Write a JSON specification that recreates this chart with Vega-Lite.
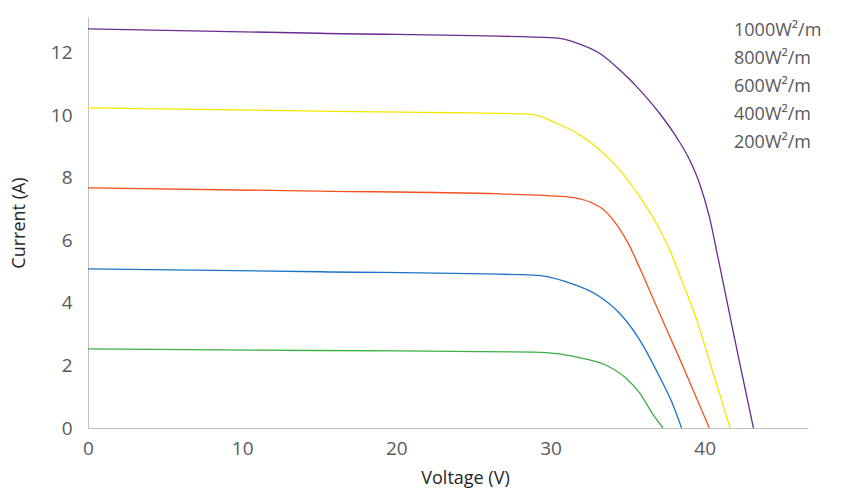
{
  "$schema": "https://vega.github.io/schema/vega-lite/v6.json",
  "autosize": {"type": "none"},
  "padding": {"left": 88, "top": 17, "right": 34, "bottom": 68},
  "width": 720,
  "height": 411,
  "background": "#ffffff",
  "config": {
    "view": {"stroke": null},
    "font": "Open Sans",
    "axis": {
      "grid": false,
      "ticks": false,
      "domainColor": "#bfbfbf",
      "domainWidth": 1,
      "labelColor": "#595959",
      "labelFont": "Open Sans",
      "labelFontSize": 19,
      "labelFontWeight": "normal",
      "labelFlush": false,
      "titleColor": "#262626",
      "titleFont": "Open Sans",
      "titleFontSize": 18,
      "titleFontWeight": "normal"
    }
  },
  "data": {
    "values": [
      {"series": "1000W²/m", "V": 0, "I": 12.77},
      {"series": "1000W²/m", "V": 15, "I": 12.63},
      {"series": "1000W²/m", "V": 30.3, "I": 12.48},
      {"series": "1000W²/m", "V": 31.8, "I": 12.3},
      {"series": "1000W²/m", "V": 33.18, "I": 11.99},
      {"series": "1000W²/m", "V": 34.48, "I": 11.46},
      {"series": "1000W²/m", "V": 35.78, "I": 10.82},
      {"series": "1000W²/m", "V": 37.07, "I": 10.07},
      {"series": "1000W²/m", "V": 38.15, "I": 9.32},
      {"series": "1000W²/m", "V": 39.02, "I": 8.58},
      {"series": "1000W²/m", "V": 39.66, "I": 7.83},
      {"series": "1000W²/m", "V": 40.3, "I": 6.76},
      {"series": "1000W²/m", "V": 40.85, "I": 5.48},
      {"series": "1000W²/m", "V": 41.4, "I": 4.16},
      {"series": "1000W²/m", "V": 42.2, "I": 2.24},
      {"series": "1000W²/m", "V": 43.16, "I": 0},

      {"series": "800W²/m", "V": 0, "I": 10.24},
      {"series": "800W²/m", "V": 15, "I": 10.14},
      {"series": "800W²/m", "V": 28.6, "I": 10.04},
      {"series": "800W²/m", "V": 30.4, "I": 9.75},
      {"series": "800W²/m", "V": 31.9, "I": 9.38},
      {"series": "800W²/m", "V": 33.18, "I": 8.9},
      {"series": "800W²/m", "V": 34.48, "I": 8.26},
      {"series": "800W²/m", "V": 35.78, "I": 7.4},
      {"series": "800W²/m", "V": 36.86, "I": 6.55},
      {"series": "800W²/m", "V": 37.72, "I": 5.7},
      {"series": "800W²/m", "V": 38.58, "I": 4.63},
      {"series": "800W²/m", "V": 39.45, "I": 3.5},
      {"series": "800W²/m", "V": 40.55, "I": 1.75},
      {"series": "800W²/m", "V": 41.65, "I": 0},

      {"series": "600W²/m", "V": 0, "I": 7.68},
      {"series": "600W²/m", "V": 15, "I": 7.58},
      {"series": "600W²/m", "V": 26.7, "I": 7.49},
      {"series": "600W²/m", "V": 31.0, "I": 7.4},
      {"series": "600W²/m", "V": 33.18, "I": 7.08},
      {"series": "600W²/m", "V": 34.3, "I": 6.5},
      {"series": "600W²/m", "V": 35.1, "I": 5.85},
      {"series": "600W²/m", "V": 35.8, "I": 5.1},
      {"series": "600W²/m", "V": 36.6, "I": 4.2},
      {"series": "600W²/m", "V": 37.4, "I": 3.3},
      {"series": "600W²/m", "V": 38.3, "I": 2.3},
      {"series": "600W²/m", "V": 39.3, "I": 1.15},
      {"series": "600W²/m", "V": 40.3, "I": 0},

      {"series": "400W²/m", "V": 0, "I": 5.09},
      {"series": "400W²/m", "V": 15, "I": 5.0},
      {"series": "400W²/m", "V": 28.9, "I": 4.89},
      {"series": "400W²/m", "V": 31.0, "I": 4.68},
      {"series": "400W²/m", "V": 33.2, "I": 4.2},
      {"series": "400W²/m", "V": 34.48, "I": 3.67},
      {"series": "400W²/m", "V": 35.78, "I": 2.82},
      {"series": "400W²/m", "V": 37.07, "I": 1.64},
      {"series": "400W²/m", "V": 37.9, "I": 0.79},
      {"series": "400W²/m", "V": 38.5, "I": 0},

      {"series": "200W²/m", "V": 0, "I": 2.53},
      {"series": "200W²/m", "V": 15, "I": 2.48},
      {"series": "200W²/m", "V": 28.9, "I": 2.43},
      {"series": "200W²/m", "V": 32.1, "I": 2.23},
      {"series": "200W²/m", "V": 33.8, "I": 1.96},
      {"series": "200W²/m", "V": 34.9, "I": 1.59},
      {"series": "200W²/m", "V": 35.8, "I": 1.11},
      {"series": "200W²/m", "V": 36.6, "I": 0.47},
      {"series": "200W²/m", "V": 37.3, "I": 0}
    ]
  },
  "mark": {"type": "line", "strokeWidth": 1.3, "interpolate": "monotone", "clip": true},
  "encoding": {
    "x": {
      "field": "V",
      "type": "quantitative",
      "title": "Voltage (V)",
      "scale": {"domain": [0, 46.7], "nice": false},
      "axis": {"values": [0, 10, 20, 30, 40], "labelPadding": 11, "titlePadding": 11, "titleX": 377}
    },
    "y": {
      "field": "I",
      "type": "quantitative",
      "title": "Current (A)",
      "scale": {"domain": [0, 13.15], "nice": false},
      "axis": {"values": [0, 2, 4, 6, 8, 10, 12], "labelPadding": 16, "titlePadding": 22}
    },
    "color": {
      "field": "series",
      "type": "nominal",
      "scale": {
        "domain": ["1000W²/m", "800W²/m", "600W²/m", "400W²/m", "200W²/m"],
        "range": ["#6a2c91", "#f5e600", "#f4511e", "#1a73c8", "#3cb043"]
      },
      "legend": {
        "orient": "none",
        "legendX": 628,
        "legendY": 5,
        "title": null,
        "padding": 0,
        "symbolSize": 0,
        "symbolOpacity": 0,
        "symbolStrokeWidth": 0,
        "labelOffset": 0,
        "labelFont": "Open Sans",
        "labelFontSize": 18,
        "labelColor": "#595959",
        "rowPadding": 10
      }
    }
  }
}
